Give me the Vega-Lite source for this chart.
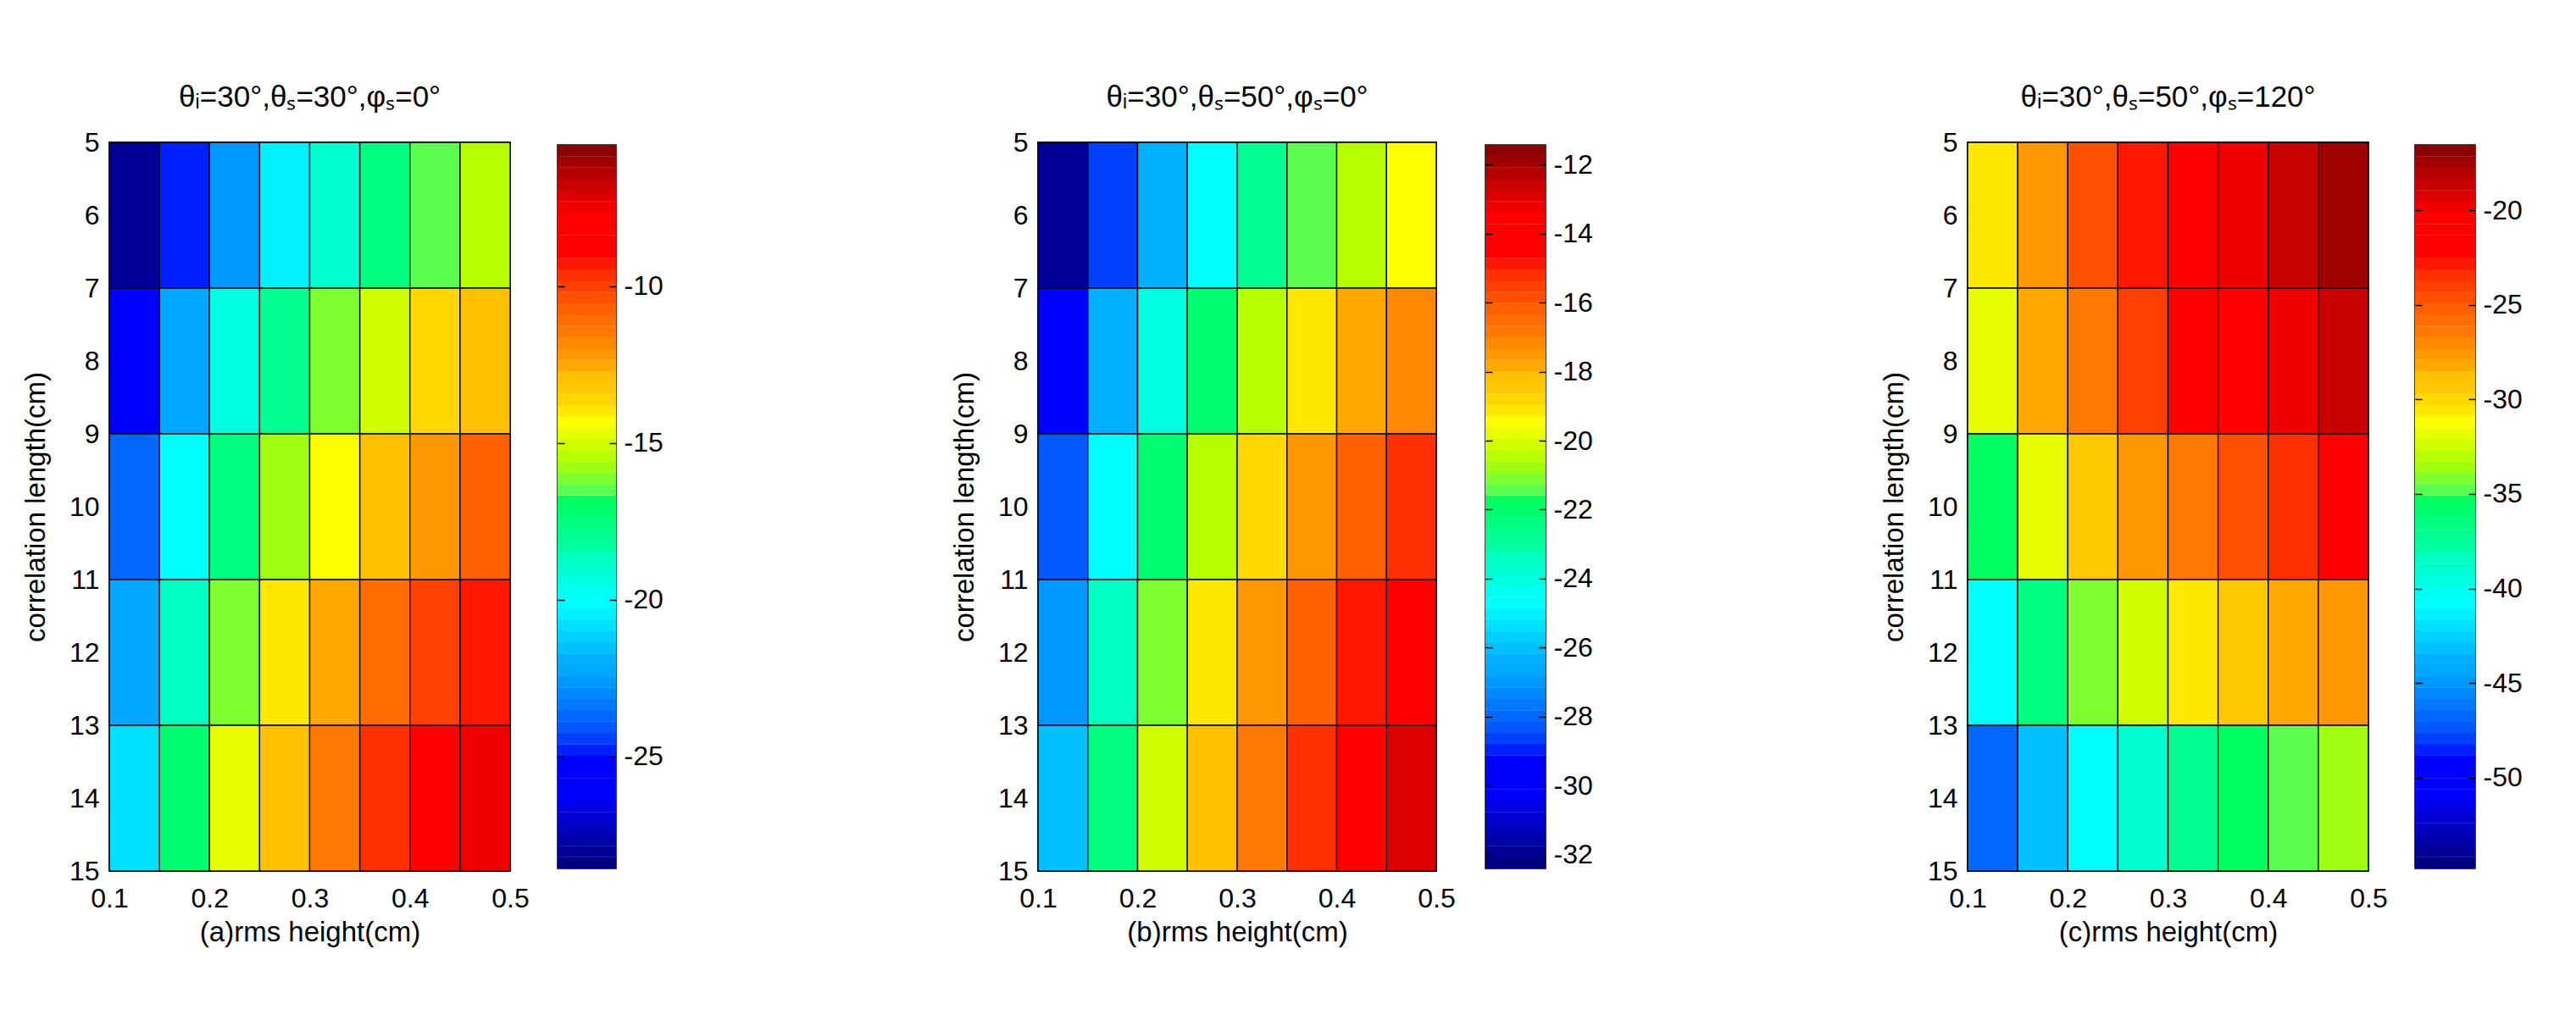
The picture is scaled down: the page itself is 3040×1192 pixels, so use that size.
{
  "$schema": "https://vega.github.io/schema/vega-lite/v6.json",
  "background": "white",
  "padding": {"left": 25, "top": 97, "right": 0, "bottom": 0},
  "datasets": {
    "cellsA": [
      {"x0":0.1,"x1":0.15,"y0":5,"y1":7,"v":-28.03},{"x0":0.15,"x1":0.2,"y0":5,"y1":7,"v":-24.79},{"x0":0.2,"x1":0.25,"y0":5,"y1":7,"v":-22.62},{"x0":0.25,"x1":0.3,"y0":5,"y1":7,"v":-20.46},{"x0":0.3,"x1":0.35,"y0":5,"y1":7,"v":-19.02},{"x0":0.35,"x1":0.4,"y0":5,"y1":7,"v":-17.58},{"x0":0.4,"x1":0.45,"y0":5,"y1":7,"v":-16.49},{"x0":0.45,"x1":0.5,"y0":5,"y1":7,"v":-15.41},
      {"x0":0.1,"x1":0.15,"y0":7,"y1":9,"v":-25.51},{"x0":0.15,"x1":0.2,"y0":7,"y1":9,"v":-22.26},{"x0":0.2,"x1":0.25,"y0":7,"y1":9,"v":-19.38},{"x0":0.25,"x1":0.3,"y0":7,"y1":9,"v":-17.94},{"x0":0.3,"x1":0.35,"y0":7,"y1":9,"v":-16.13},{"x0":0.35,"x1":0.4,"y0":7,"y1":9,"v":-15.05},{"x0":0.4,"x1":0.45,"y0":7,"y1":9,"v":-13.61},{"x0":0.45,"x1":0.5,"y0":7,"y1":9,"v":-12.89},
      {"x0":0.1,"x1":0.15,"y0":9,"y1":11,"v":-23.70},{"x0":0.15,"x1":0.2,"y0":9,"y1":11,"v":-20.10},{"x0":0.2,"x1":0.25,"y0":9,"y1":11,"v":-17.58},{"x0":0.25,"x1":0.3,"y0":9,"y1":11,"v":-15.77},{"x0":0.3,"x1":0.35,"y0":9,"y1":11,"v":-14.33},{"x0":0.35,"x1":0.4,"y0":9,"y1":11,"v":-12.89},{"x0":0.4,"x1":0.45,"y0":9,"y1":11,"v":-12.17},{"x0":0.45,"x1":0.5,"y0":9,"y1":11,"v":-10.73},
      {"x0":0.1,"x1":0.15,"y0":11,"y1":13,"v":-22.26},{"x0":0.15,"x1":0.2,"y0":11,"y1":13,"v":-18.66},{"x0":0.2,"x1":0.25,"y0":11,"y1":13,"v":-16.13},{"x0":0.25,"x1":0.3,"y0":11,"y1":13,"v":-13.97},{"x0":0.3,"x1":0.35,"y0":11,"y1":13,"v":-12.53},{"x0":0.35,"x1":0.4,"y0":11,"y1":13,"v":-11.09},{"x0":0.4,"x1":0.45,"y0":11,"y1":13,"v":-10.01},{"x0":0.45,"x1":0.5,"y0":11,"y1":13,"v":-9.29},
      {"x0":0.1,"x1":0.15,"y0":13,"y1":15,"v":-20.82},{"x0":0.15,"x1":0.2,"y0":13,"y1":15,"v":-17.22},{"x0":0.2,"x1":0.25,"y0":13,"y1":15,"v":-14.69},{"x0":0.25,"x1":0.3,"y0":13,"y1":15,"v":-12.89},{"x0":0.3,"x1":0.35,"y0":13,"y1":15,"v":-11.45},{"x0":0.35,"x1":0.4,"y0":13,"y1":15,"v":-9.65},{"x0":0.4,"x1":0.45,"y0":13,"y1":15,"v":-8.56},{"x0":0.45,"x1":0.5,"y0":13,"y1":15,"v":-7.48}
    ],
    "cellsB": [
      {"x0":0.1,"x1":0.15,"y0":5,"y1":7,"v":-31.91},{"x0":0.15,"x1":0.2,"y0":5,"y1":7,"v":-28.63},{"x0":0.2,"x1":0.25,"y0":5,"y1":7,"v":-26.34},{"x0":0.25,"x1":0.3,"y0":5,"y1":7,"v":-24.70},{"x0":0.3,"x1":0.35,"y0":5,"y1":7,"v":-22.73},{"x0":0.35,"x1":0.4,"y0":5,"y1":7,"v":-21.42},{"x0":0.4,"x1":0.45,"y0":5,"y1":7,"v":-20.44},{"x0":0.45,"x1":0.5,"y0":5,"y1":7,"v":-19.46},
      {"x0":0.1,"x1":0.15,"y0":7,"y1":9,"v":-29.61},{"x0":0.15,"x1":0.2,"y0":7,"y1":9,"v":-26.34},{"x0":0.2,"x1":0.25,"y0":7,"y1":9,"v":-24.04},{"x0":0.25,"x1":0.3,"y0":7,"y1":9,"v":-22.08},{"x0":0.3,"x1":0.35,"y0":7,"y1":9,"v":-20.44},{"x0":0.35,"x1":0.4,"y0":7,"y1":9,"v":-19.13},{"x0":0.4,"x1":0.45,"y0":7,"y1":9,"v":-17.82},{"x0":0.45,"x1":0.5,"y0":7,"y1":9,"v":-17.16},
      {"x0":0.1,"x1":0.15,"y0":9,"y1":11,"v":-28.30},{"x0":0.15,"x1":0.2,"y0":9,"y1":11,"v":-24.70},{"x0":0.2,"x1":0.25,"y0":9,"y1":11,"v":-22.08},{"x0":0.25,"x1":0.3,"y0":9,"y1":11,"v":-20.44},{"x0":0.3,"x1":0.35,"y0":9,"y1":11,"v":-18.80},{"x0":0.35,"x1":0.4,"y0":9,"y1":11,"v":-17.49},{"x0":0.4,"x1":0.45,"y0":9,"y1":11,"v":-16.18},{"x0":0.45,"x1":0.5,"y0":9,"y1":11,"v":-15.20},
      {"x0":0.1,"x1":0.15,"y0":11,"y1":13,"v":-26.99},{"x0":0.15,"x1":0.2,"y0":11,"y1":13,"v":-23.39},{"x0":0.2,"x1":0.25,"y0":11,"y1":13,"v":-21.10},{"x0":0.25,"x1":0.3,"y0":11,"y1":13,"v":-19.13},{"x0":0.3,"x1":0.35,"y0":11,"y1":13,"v":-17.49},{"x0":0.35,"x1":0.4,"y0":11,"y1":13,"v":-16.18},{"x0":0.4,"x1":0.45,"y0":11,"y1":13,"v":-14.87},{"x0":0.45,"x1":0.5,"y0":11,"y1":13,"v":-14.22},
      {"x0":0.1,"x1":0.15,"y0":13,"y1":15,"v":-26.01},{"x0":0.15,"x1":0.2,"y0":13,"y1":15,"v":-22.41},{"x0":0.2,"x1":0.25,"y0":13,"y1":15,"v":-20.11},{"x0":0.25,"x1":0.3,"y0":13,"y1":15,"v":-18.15},{"x0":0.3,"x1":0.35,"y0":13,"y1":15,"v":-16.84},{"x0":0.35,"x1":0.4,"y0":13,"y1":15,"v":-15.20},{"x0":0.4,"x1":0.45,"y0":13,"y1":15,"v":-14.22},{"x0":0.45,"x1":0.5,"y0":13,"y1":15,"v":-12.90}
    ],
    "cellsC": [
      {"x0":0.1,"x1":0.15,"y0":5,"y1":7,"v":-30.59},{"x0":0.15,"x1":0.2,"y0":5,"y1":7,"v":-27.61},{"x0":0.2,"x1":0.25,"y0":5,"y1":7,"v":-24.62},{"x0":0.25,"x1":0.3,"y0":5,"y1":7,"v":-22.83},{"x0":0.3,"x1":0.35,"y0":5,"y1":7,"v":-21.63},{"x0":0.35,"x1":0.4,"y0":5,"y1":7,"v":-19.84},{"x0":0.4,"x1":0.45,"y0":5,"y1":7,"v":-18.64},{"x0":0.45,"x1":0.5,"y0":5,"y1":7,"v":-17.45},
      {"x0":0.1,"x1":0.15,"y0":7,"y1":9,"v":-31.79},{"x0":0.15,"x1":0.2,"y0":7,"y1":9,"v":-28.20},{"x0":0.2,"x1":0.25,"y0":7,"y1":9,"v":-26.41},{"x0":0.25,"x1":0.3,"y0":7,"y1":9,"v":-24.02},{"x0":0.3,"x1":0.35,"y0":7,"y1":9,"v":-22.23},{"x0":0.35,"x1":0.4,"y0":7,"y1":9,"v":-21.03},{"x0":0.4,"x1":0.45,"y0":7,"y1":9,"v":-19.84},{"x0":0.45,"x1":0.5,"y0":7,"y1":9,"v":-18.64},
      {"x0":0.1,"x1":0.15,"y0":9,"y1":11,"v":-35.38},{"x0":0.15,"x1":0.2,"y0":9,"y1":11,"v":-31.79},{"x0":0.2,"x1":0.25,"y0":9,"y1":11,"v":-29.40},{"x0":0.25,"x1":0.3,"y0":9,"y1":11,"v":-27.61},{"x0":0.3,"x1":0.35,"y0":9,"y1":11,"v":-26.41},{"x0":0.35,"x1":0.4,"y0":9,"y1":11,"v":-24.62},{"x0":0.4,"x1":0.45,"y0":9,"y1":11,"v":-23.42},{"x0":0.45,"x1":0.5,"y0":9,"y1":11,"v":-22.23},
      {"x0":0.1,"x1":0.15,"y0":11,"y1":13,"v":-40.75},{"x0":0.15,"x1":0.2,"y0":11,"y1":13,"v":-36.57},{"x0":0.2,"x1":0.25,"y0":11,"y1":13,"v":-34.18},{"x0":0.25,"x1":0.3,"y0":11,"y1":13,"v":-32.39},{"x0":0.3,"x1":0.35,"y0":11,"y1":13,"v":-30.59},{"x0":0.35,"x1":0.4,"y0":11,"y1":13,"v":-29.40},{"x0":0.4,"x1":0.45,"y0":11,"y1":13,"v":-28.20},{"x0":0.45,"x1":0.5,"y0":11,"y1":13,"v":-27.61},
      {"x0":0.1,"x1":0.15,"y0":13,"y1":15,"v":-46.73},{"x0":0.15,"x1":0.2,"y0":13,"y1":15,"v":-43.15},{"x0":0.2,"x1":0.25,"y0":13,"y1":15,"v":-40.75},{"x0":0.25,"x1":0.3,"y0":13,"y1":15,"v":-38.96},{"x0":0.3,"x1":0.35,"y0":13,"y1":15,"v":-37.17},{"x0":0.35,"x1":0.4,"y0":13,"y1":15,"v":-35.38},{"x0":0.4,"x1":0.45,"y0":13,"y1":15,"v":-34.78},{"x0":0.45,"x1":0.5,"y0":13,"y1":15,"v":-33.58}
    ],
    "barA": [{"v":-28.39},{"v":-28.03},{"v":-27.67},{"v":-27.31},{"v":-26.95},{"v":-26.59},{"v":-26.23},{"v":-25.87},{"v":-25.51},{"v":-25.15},{"v":-24.79},{"v":-24.43},{"v":-24.06},{"v":-23.70},{"v":-23.34},{"v":-22.98},{"v":-22.62},{"v":-22.26},{"v":-21.90},{"v":-21.54},{"v":-21.18},{"v":-20.82},{"v":-20.46},{"v":-20.10},{"v":-19.74},{"v":-19.38},{"v":-19.02},{"v":-18.66},{"v":-18.30},{"v":-17.94},{"v":-17.58},{"v":-17.22},{"v":-16.86},{"v":-16.49},{"v":-16.13},{"v":-15.77},{"v":-15.41},{"v":-15.05},{"v":-14.69},{"v":-14.33},{"v":-13.97},{"v":-13.61},{"v":-13.25},{"v":-12.89},{"v":-12.53},{"v":-12.17},{"v":-11.81},{"v":-11.45},{"v":-11.09},{"v":-10.73},{"v":-10.37},{"v":-10.01},{"v":-9.65},{"v":-9.29},{"v":-8.93},{"v":-8.56},{"v":-8.20},{"v":-7.84},{"v":-7.48},{"v":-7.12},{"v":-6.76},{"v":-6.40},{"v":-6.04},{"v":-5.68}],
    "barB": [{"v":-32.24},{"v":-31.91},{"v":-31.58},{"v":-31.25},{"v":-30.93},{"v":-30.60},{"v":-30.27},{"v":-29.94},{"v":-29.61},{"v":-29.29},{"v":-28.96},{"v":-28.63},{"v":-28.30},{"v":-27.98},{"v":-27.65},{"v":-27.32},{"v":-26.99},{"v":-26.67},{"v":-26.34},{"v":-26.01},{"v":-25.68},{"v":-25.36},{"v":-25.03},{"v":-24.70},{"v":-24.37},{"v":-24.04},{"v":-23.72},{"v":-23.39},{"v":-23.06},{"v":-22.73},{"v":-22.41},{"v":-22.08},{"v":-21.75},{"v":-21.42},{"v":-21.10},{"v":-20.77},{"v":-20.44},{"v":-20.11},{"v":-19.78},{"v":-19.46},{"v":-19.13},{"v":-18.80},{"v":-18.47},{"v":-18.15},{"v":-17.82},{"v":-17.49},{"v":-17.16},{"v":-16.84},{"v":-16.51},{"v":-16.18},{"v":-15.85},{"v":-15.52},{"v":-15.20},{"v":-14.87},{"v":-14.54},{"v":-14.22},{"v":-13.89},{"v":-13.56},{"v":-13.23},{"v":-12.90},{"v":-12.58},{"v":-12.25},{"v":-11.92},{"v":-11.59}],
    "barC": [{"v":-54.50},{"v":-53.90},{"v":-53.31},{"v":-52.71},{"v":-52.11},{"v":-51.51},{"v":-50.92},{"v":-50.32},{"v":-49.72},{"v":-49.12},{"v":-48.52},{"v":-47.93},{"v":-47.33},{"v":-46.73},{"v":-46.13},{"v":-45.54},{"v":-44.94},{"v":-44.34},{"v":-43.74},{"v":-43.15},{"v":-42.55},{"v":-41.95},{"v":-41.35},{"v":-40.75},{"v":-40.16},{"v":-39.56},{"v":-38.96},{"v":-38.36},{"v":-37.77},{"v":-37.17},{"v":-36.57},{"v":-35.97},{"v":-35.38},{"v":-34.78},{"v":-34.18},{"v":-33.58},{"v":-32.98},{"v":-32.39},{"v":-31.79},{"v":-31.19},{"v":-30.59},{"v":-30.00},{"v":-29.40},{"v":-28.80},{"v":-28.20},{"v":-27.61},{"v":-27.01},{"v":-26.41},{"v":-25.81},{"v":-25.22},{"v":-24.62},{"v":-24.02},{"v":-23.42},{"v":-22.83},{"v":-22.23},{"v":-21.63},{"v":-21.03},{"v":-20.43},{"v":-19.84},{"v":-19.24},{"v":-18.64},{"v":-18.04},{"v":-17.45},{"v":-16.85}]
  },
  "spacing": 338,
  "resolve": {"scale": {"color": "independent"}},
  "hconcat": [
    {
      "spacing": 56, "bounds": "flush", "center": true,
      "resolve": {"scale": {"color": "independent"}},
      "hconcat": [
        {
          "width": 473, "height": 860,
          "title": "θᵢ=30°,θₛ=30°,φₛ=0°",
          "data": {"name": "cellsA"},
          "mark": {"type": "rect", "stroke": "black", "strokeWidth": 1.4},
          "encoding": {
            "x": {"field": "x0", "type": "quantitative", "scale": {"domain": [0.1, 0.5], "nice": false, "zero": false}, "axis": {"title": "(a)rms height(cm)", "values": [0.1, 0.2, 0.3, 0.4, 0.5], "format": ".1f"}},
            "x2": {"field": "x1"},
            "y": {"field": "y0", "type": "quantitative", "scale": {"domain": [15, 5], "nice": false, "zero": false}, "axis": {"title": "correlation length(cm)", "values": [5, 6, 7, 8, 9, 10, 11, 12, 13, 14, 15]}},
            "y2": {"field": "y1"},
            "color": {"field": "v", "type": "quantitative", "legend": null, "scale": {"type": "quantize", "domain": [-28.57, -5.5]}}
          }
        },
        {
          "width": 69, "height": 854,
          "data": {"name": "barA"},
          "mark": {"type": "rect", "height": 13.7, "clip": true},
          "encoding": {
            "y": {"field": "v", "type": "quantitative", "scale": {"domain": [-28.57, -5.5], "nice": false, "zero": false}, "axis": {"orient": "right", "title": null, "ticks": true, "tickSize": -69, "tickDash": [8, 53, 8], "tickWidth": 1.5, "labelPadding": 78, "zindex": 1, "labelExpr": "'' + datum.value", "values": [-25, -20, -15, -10]}},
            "color": {"field": "v", "type": "quantitative", "legend": null, "scale": {"type": "quantize", "domain": [-28.57, -5.5]}}
          }
        }
      ]
    },
    {
      "spacing": 58, "bounds": "flush", "center": true,
      "resolve": {"scale": {"color": "independent"}},
      "hconcat": [
        {
          "width": 470, "height": 860,
          "title": "θᵢ=30°,θₛ=50°,φₛ=0°",
          "data": {"name": "cellsB"},
          "mark": {"type": "rect", "stroke": "black", "strokeWidth": 1.4},
          "encoding": {
            "x": {"field": "x0", "type": "quantitative", "scale": {"domain": [0.1, 0.5], "nice": false, "zero": false}, "axis": {"title": "(b)rms height(cm)", "values": [0.1, 0.2, 0.3, 0.4, 0.5], "format": ".1f"}},
            "x2": {"field": "x1"},
            "y": {"field": "y0", "type": "quantitative", "scale": {"domain": [15, 5], "nice": false, "zero": false}, "axis": {"title": "correlation length(cm)", "values": [5, 6, 7, 8, 9, 10, 11, 12, 13, 14, 15]}},
            "y2": {"field": "y1"},
            "color": {"field": "v", "type": "quantitative", "legend": null, "scale": {"type": "quantize", "domain": [-32.4, -11.43]}}
          }
        },
        {
          "width": 71, "height": 854,
          "data": {"name": "barB"},
          "mark": {"type": "rect", "height": 13.7, "clip": true},
          "encoding": {
            "y": {"field": "v", "type": "quantitative", "scale": {"domain": [-32.4, -11.43], "nice": false, "zero": false}, "axis": {"orient": "right", "title": null, "ticks": true, "tickSize": -71, "tickDash": [8, 55, 8], "tickWidth": 1.5, "labelPadding": 80, "zindex": 1, "labelExpr": "'' + datum.value", "values": [-32, -30, -28, -26, -24, -22, -20, -18, -16, -14, -12]}},
            "color": {"field": "v", "type": "quantitative", "legend": null, "scale": {"type": "quantize", "domain": [-32.4, -11.43]}}
          }
        }
      ]
    },
    {
      "spacing": 55, "bounds": "flush", "center": true,
      "resolve": {"scale": {"color": "independent"}},
      "hconcat": [
        {
          "width": 473, "height": 860,
          "title": "θᵢ=30°,θₛ=50°,φₛ=120°",
          "data": {"name": "cellsC"},
          "mark": {"type": "rect", "stroke": "black", "strokeWidth": 1.4},
          "encoding": {
            "x": {"field": "x0", "type": "quantitative", "scale": {"domain": [0.1, 0.5], "nice": false, "zero": false}, "axis": {"title": "(c)rms height(cm)", "values": [0.1, 0.2, 0.3, 0.4, 0.5], "format": ".1f"}},
            "x2": {"field": "x1"},
            "y": {"field": "y0", "type": "quantitative", "scale": {"domain": [15, 5], "nice": false, "zero": false}, "axis": {"title": "correlation length(cm)", "values": [5, 6, 7, 8, 9, 10, 11, 12, 13, 14, 15]}},
            "y2": {"field": "y1"},
            "color": {"field": "v", "type": "quantitative", "legend": null, "scale": {"type": "quantize", "domain": [-54.8, -16.55]}}
          }
        },
        {
          "width": 71, "height": 854,
          "data": {"name": "barC"},
          "mark": {"type": "rect", "height": 13.7, "clip": true},
          "encoding": {
            "y": {"field": "v", "type": "quantitative", "scale": {"domain": [-54.8, -16.55], "nice": false, "zero": false}, "axis": {"orient": "right", "title": null, "ticks": true, "tickSize": -71, "tickDash": [8, 55, 8], "tickWidth": 1.5, "labelPadding": 80, "zindex": 1, "labelExpr": "'' + datum.value", "values": [-50, -45, -40, -35, -30, -25, -20]}},
            "color": {"field": "v", "type": "quantitative", "legend": null, "scale": {"type": "quantize", "domain": [-54.8, -16.55]}}
          }
        }
      ]
    }
  ],
  "config": {
    "font": "Liberation Sans",
    "view": {"stroke": "black", "strokeWidth": 1.5},
    "title": {"fontSize": 35, "fontWeight": "normal", "color": "black", "offset": 19},
    "axis": {"labelFontSize": 32, "titleFontSize": 33, "titleFontWeight": "normal", "labelColor": "black", "titleColor": "black", "tickColor": "black", "domain": false, "grid": false, "ticks": false, "labelFlush": false, "labelOverlap": false},
    "axisX": {"labelPadding": 17, "titlePadding": 8},
    "axisY": {"labelPadding": 12, "titlePadding": 22},
    "range": {
      "heatmap": ["#000080","#000098","#0000a8","#0000c0","#0000d0","#0000e8","#0000ff","#0000ff","#0000ff","#0000ff","#0020ff","#0040ff","#0058ff","#0068ff","#0078ff","#0088ff","#0098ff","#00a8ff","#00b0ff","#00c0ff","#00d0ff","#00e0ff","#00f0ff","#00ffff","#00fff0","#00ffe0","#00ffd0","#00ffc0","#00ffa0","#00ff90","#00ff80","#00ff70","#00ff60","#5cff50","#80ff30","#a0ff10","#b8ff00","#d0ff00","#e8ff00","#ffff00","#ffe800","#ffd800","#ffc800","#ffc000","#ffa800","#ff9800","#ff8800","#ff7800","#ff6c00","#ff6000","#ff5000","#ff4000","#ff3000","#ff1800","#ff0000","#ff0000","#ff0000","#ff0000","#f00000","#dc0000","#c80000","#b40000","#a00000","#8b0000"],
      "ramp": ["#000080","#000098","#0000a8","#0000c0","#0000d0","#0000e8","#0000ff","#0000ff","#0000ff","#0000ff","#0020ff","#0040ff","#0058ff","#0068ff","#0078ff","#0088ff","#0098ff","#00a8ff","#00b0ff","#00c0ff","#00d0ff","#00e0ff","#00f0ff","#00ffff","#00fff0","#00ffe0","#00ffd0","#00ffc0","#00ffa0","#00ff90","#00ff80","#00ff70","#00ff60","#5cff50","#80ff30","#a0ff10","#b8ff00","#d0ff00","#e8ff00","#ffff00","#ffe800","#ffd800","#ffc800","#ffc000","#ffa800","#ff9800","#ff8800","#ff7800","#ff6c00","#ff6000","#ff5000","#ff4000","#ff3000","#ff1800","#ff0000","#ff0000","#ff0000","#ff0000","#f00000","#dc0000","#c80000","#b40000","#a00000","#8b0000"]
    }
  }
}
